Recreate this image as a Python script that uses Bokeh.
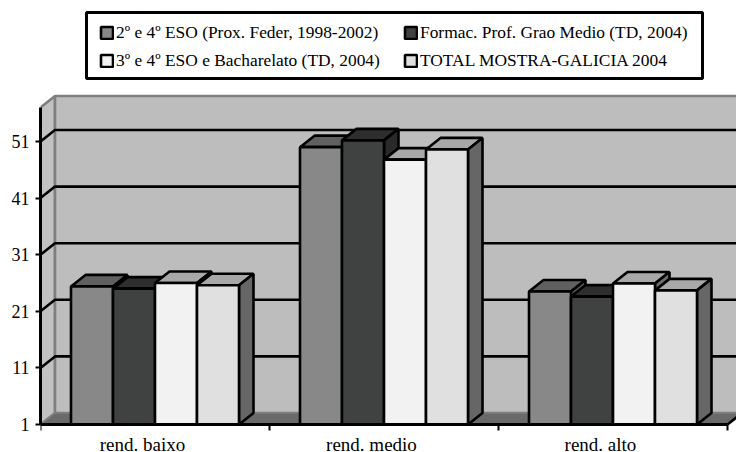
from bokeh.plotting import figure
from bokeh.models import Range1d, FixedTicker, Legend, LegendItem, BoxAnnotation
from bokeh.embed import file_html
from bokeh.resources import INLINE

categories = ["rend. baixo", "rend. medio", "rend. alto"]
series_names = ["2º e 4º ESO (Prox. Feder, 1998-2002)", "Formac. Prof. Grao Medio (TD, 2004)",
                "3º e 4º ESO e Bacharelato (TD, 2004)", "TOTAL MOSTRA-GALICIA 2004"]
s1 = [25.4, 50.0, 24.5]
s2 = [25.0, 51.2, 23.6]
s3 = [26.0, 47.8, 25.9]
s4 = [25.6, 49.6, 24.7]
series = [s1, s2, s3, s4]
front_colors = ["#888888", "#404241", "#F2F2F2", "#E0E0E0"]
top_colors = ["#606060", "#2E2E2E", "#A8A8A8", "#A8A8A8"]
side_colors = ["#606060", "#2A2A2A", "#707070", "#666666"]
y_ticks = [1, 11, 21, 31, 41, 51]
y_min, y_max = 1, 57

W, H = 736, 452
LEFT, BOTTOM = 40, 28
CAT_PX = 229.0
UNIT_PX = 5.66
DEPTH_X = 14.5 / CAT_PX
DEPTH_Y = 11.5 / UNIT_PX
BAR_W = 42.0 / CAT_PX
LABEL_SHIFT = 12.5 / CAT_PX

# the frame runs to the bottom of the figure; the x axis sits at y_min inside it
p = figure(width=W, height=H, output_backend="svg", toolbar_location=None,
           min_border_left=LEFT, min_border_bottom=0, min_border_top=0, min_border_right=0,
           x_range=Range1d(0, (W - LEFT) / CAT_PX),
           y_range=Range1d(y_min - BOTTOM / UNIT_PX, y_min + (H - BOTTOM) / UNIT_PX),
           margin=(0, 0, 0, 0))
p.outline_line_color = None
p.grid.visible = False

xr = p.x_range.end + 0.1
WALL_LINE = "#7F7F7F"
LW = 2.6
p.patch([0, DEPTH_X, DEPTH_X, 0], [y_min, y_min + DEPTH_Y, y_max + DEPTH_Y, y_max],
        fill_color="#C2C2C2", line_color=WALL_LINE, line_width=LW)
p.quad(left=[DEPTH_X], right=[xr], bottom=[y_min + DEPTH_Y], top=[y_max + DEPTH_Y],
       fill_color="#BDBDBD", line_color=WALL_LINE, line_width=LW)
p.patch([0, DEPTH_X, 3 + DEPTH_X, 3], [y_min, y_min + DEPTH_Y, y_min + DEPTH_Y, y_min],
        fill_color="#6A6A6A", line_color=WALL_LINE, line_width=1.5)
p.line([3, 3 + DEPTH_X], [y_min, y_min + DEPTH_Y], line_color="black", line_width=LW)
p.multi_line([[0, DEPTH_X, xr] for v in y_ticks[1:]],
             [[v, v + DEPTH_Y, v + DEPTH_Y] for v in y_ticks[1:]],
             line_color="black", line_width=LW)

fronts = []
for i, vals in enumerate(series):
    lefts = [c + 0.5 + (i - 2) * BAR_W for c in range(len(vals))]
    rights = [l + BAR_W for l in lefts]
    p.patches([[l, r, r + DEPTH_X, l + DEPTH_X] for l, r in zip(lefts, rights)],
              [[v, v, v + DEPTH_Y, v + DEPTH_Y] for v in vals],
              fill_color=top_colors[i], line_color="black", line_width=LW)
    p.patches([[r, r + DEPTH_X, r + DEPTH_X, r] for r in rights],
              [[y_min, y_min + DEPTH_Y, v + DEPTH_Y, v] for v in vals],
              fill_color=side_colors[i], line_color="black", line_width=LW)
    fronts.append(p.quad(left=lefts, right=rights, bottom=[y_min] * len(vals), top=vals,
                         fill_color=front_colors[i], line_color="black", line_width=LW))

FONT = "Liberation Serif"
label_pos = [c + 0.5 - LABEL_SHIFT for c in range(len(categories))]
ax = p.xaxis[0]
ax.fixed_location = y_min
ax.ticker = FixedTicker(ticks=label_pos, minor_ticks=list(range(len(categories) + 1)))
ax.major_label_overrides = dict(zip(label_pos, categories))
ax.bounds = (0, 3)
ax.major_tick_line_color = None
ax.major_tick_in = 0
ax.major_tick_out = 0
ax.minor_tick_in = 0
ax.minor_tick_out = 6
ax.minor_tick_line_color = "black"
ax.minor_tick_line_width = 2
ax.axis_line_color = "black"
ax.axis_line_width = 3
ax.major_label_text_font = FONT
ax.major_label_text_font_size = "19px"
ax.major_label_text_color = "black"
ax.major_label_standoff = 3

ay = p.yaxis[0]
ay.ticker = FixedTicker(ticks=y_ticks)
ay.bounds = (y_min, y_max)
ay.minor_tick_line_color = None
ay.major_tick_in = 0
ay.major_tick_out = 5
ay.major_tick_line_color = "black"
ay.major_tick_line_width = 2
ay.axis_line_color = "black"
ay.axis_line_width = 3
ay.major_label_text_font = FONT
ay.major_label_text_font_size = "18px"
ay.major_label_text_color = "black"
ay.major_label_standoff = 6

box = BoxAnnotation(left=86, right=702, top=12, bottom=78,
                    left_units="canvas", right_units="canvas", top_units="canvas", bottom_units="canvas",
                    fill_color="white", fill_alpha=1, line_color="black", line_width=3, line_alpha=1)
p.add_layout(box)

def column_legend(idx, x):
    lg = Legend(items=[LegendItem(label=series_names[k], renderers=[fronts[k]]) for k in idx],
                ncols=1, location=(x - LEFT, H - 71), orientation="vertical",
                border_line_color=None, background_fill_alpha=0,
                label_text_font=FONT, label_text_font_size="17.4px", label_text_color="black",
                glyph_width=15, glyph_height=15, label_standoff=2, spacing=7,
                padding=0, margin=0, label_height=16, click_policy="none")
    p.add_layout(lg, "center")

column_legend([0, 2], 99)
column_legend([1, 3], 403)

open("out.html", "w").write(file_html(p, INLINE))
